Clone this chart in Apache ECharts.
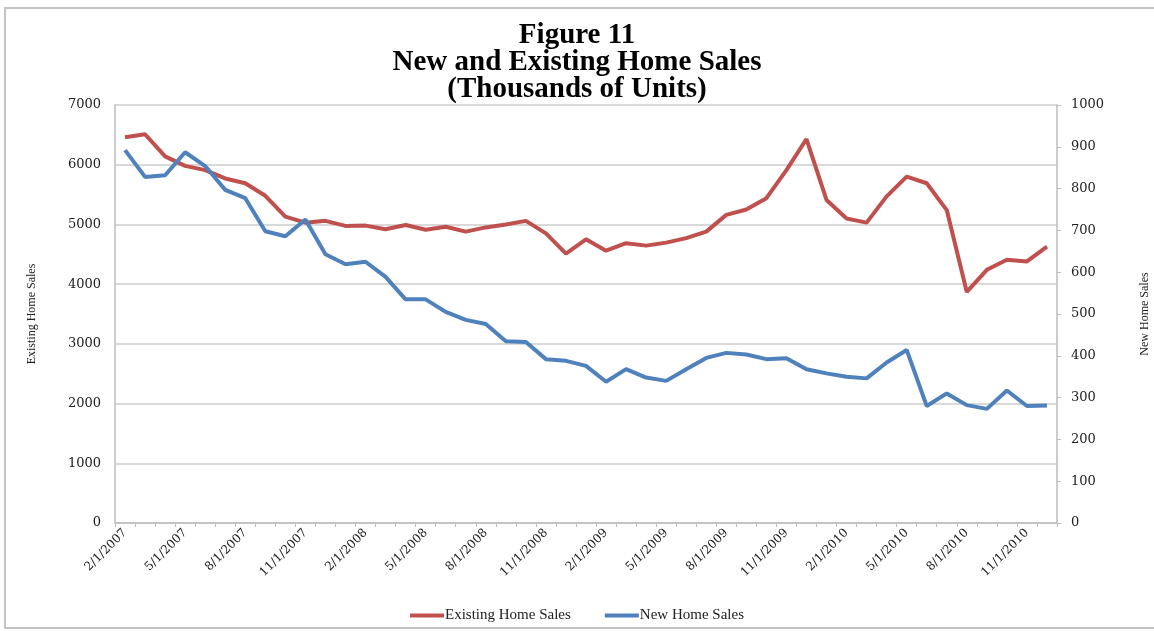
<!DOCTYPE html>
<html>
<head>
<meta charset="utf-8">
<script src="https://cdn.jsdelivr.net/npm/echarts@6/dist/echarts.min.js"></script>
<style>
html,body{margin:0;padding:0;background:#fff;}
#chart{width:1154px;height:631px;}
</style>
</head>
<body>
<div id="chart"></div>
<script>
const categories = [
  "2/1/2007","3/1/2007","4/1/2007","5/1/2007","6/1/2007","7/1/2007","8/1/2007","9/1/2007","10/1/2007","11/1/2007","12/1/2007",
  "1/1/2008","2/1/2008","3/1/2008","4/1/2008","5/1/2008","6/1/2008","7/1/2008","8/1/2008","9/1/2008","10/1/2008","11/1/2008","12/1/2008",
  "1/1/2009","2/1/2009","3/1/2009","4/1/2009","5/1/2009","6/1/2009","7/1/2009","8/1/2009","9/1/2009","10/1/2009","11/1/2009","12/1/2009",
  "1/1/2010","2/1/2010","3/1/2010","4/1/2010","5/1/2010","6/1/2010","7/1/2010","8/1/2010","9/1/2010","10/1/2010","11/1/2010","12/1/2010"
];
const existingHomeSales = [
  6460, 6510, 6140, 5980, 5910, 5770, 5690, 5480, 5130, 5030, 5060,
  4975, 4980, 4920, 4990, 4910, 4960, 4880, 4950, 5000, 5060, 4850, 4510,
  4750, 4560, 4685, 4645, 4695, 4770, 4880, 5160, 5250, 5440, 5910, 6430,
  5410, 5100, 5030, 5470, 5800, 5690, 5240, 3870, 4240, 4410, 4380, 4630
];
const newHomeSales = [
  892, 828, 832, 887, 854, 797, 777, 698, 686, 726, 643,
  619, 625, 589, 535, 535, 505, 486, 476, 435, 433, 392, 388,
  376, 338, 368, 348, 340, 368, 395, 407, 403, 392, 394, 368,
  358, 350, 346, 384, 414, 280, 310, 282, 273, 317, 280, 281
];
const leftTicks = {min: 0, max: 7000, interval: 1000};
const rightTicks = {min: 0, max: 1000, interval: 100};

const serif = "'Liberation Serif', 'Times New Roman', serif";
const numFont = "'DejaVu Serif', serif";
const chart = echarts.init(document.getElementById('chart'), null, {renderer: 'canvas'});
chart.setOption({
  backgroundColor: '#ffffff',
  animation: false,
  graphic: [{
    type: 'rect', silent: true, z: -10,
    shape: {x: 5, y: 8, width: 1160, height: 620},
    style: {fill: 'none', stroke: '#c4c4c4', lineWidth: 2}
  }],
  title: {
    text: 'Figure 11\nNew and Existing Home Sales\n(Thousands of Units)',
    left: 'center', top: 17,
    textStyle: {fontFamily: serif, fontWeight: 'bold', fontSize: 29, lineHeight: 27, color: '#000'}
  },
  legend: {
    bottom: 3, left: 'center',
    icon: 'rect', itemWidth: 34, itemHeight: 4, itemGap: 34,
    textStyle: {fontFamily: serif, fontSize: 15, color: '#222', padding: [0,0,0,-4]},
    data: ['Existing Home Sales', 'New Home Sales']
  },
  grid: {left: 115, right: 97, top: 105, bottom: 108, containLabel: false, outerBoundsMode: 'none'},
  xAxis: {
    type: 'category', data: categories, boundaryGap: true,
    axisLine: {lineStyle: {color: '#bdbdbd', width: 1.5}},
    axisTick: {show: true, interval: 0, length: 4, lineStyle: {color: '#bdbdbd'}},
    axisLabel: {interval: 2, rotate: 45, fontFamily: numFont, fontSize: 12, color: '#222', margin: 8},
    splitLine: {show: false}
  },
  yAxis: [{
    type: 'value', min: leftTicks.min, max: leftTicks.max, interval: leftTicks.interval,
    name: 'Existing Home Sales', nameLocation: 'middle', nameGap: 77, nameRotate: 90,
    nameTextStyle: {fontFamily: serif, fontSize: 12, color: '#222'},
    axisLine: {show: true, lineStyle: {color: '#bdbdbd', width: 1.5}},
    axisTick: {show: false},
    axisLabel: {fontFamily: numFont, fontSize: 13, color: '#222', margin: 14, formatter: v => String(v)},
    splitLine: {show: true, lineStyle: {color: '#cdcdcd', width: 1.5}}
  }, {
    type: 'value', min: rightTicks.min, max: rightTicks.max, interval: rightTicks.interval,
    position: 'right',
    name: 'New Home Sales', nameLocation: 'middle', nameGap: 82, nameRotate: 90,
    nameTextStyle: {fontFamily: serif, fontSize: 12, color: '#222'},
    axisLine: {show: true, lineStyle: {color: '#bdbdbd', width: 1.5}},
    axisTick: {show: true, length: 4, lineStyle: {color: '#bdbdbd'}},
    axisLabel: {fontFamily: numFont, fontSize: 13, color: '#222', margin: 14, formatter: v => String(v)},
    splitLine: {show: false}
  }],
  series: [{
    name: 'Existing Home Sales', type: 'line', yAxisIndex: 0,
    data: existingHomeSales, showSymbol: false, symbol: 'none',
    itemStyle: {color: '#c0504d'},
    lineStyle: {color: '#c0504d', width: 4}
  }, {
    name: 'New Home Sales', type: 'line', yAxisIndex: 1,
    data: newHomeSales, showSymbol: false, symbol: 'none',
    itemStyle: {color: '#4f81bd'},
    lineStyle: {color: '#4f81bd', width: 4}
  }]
});
</script>
</body>
</html>
